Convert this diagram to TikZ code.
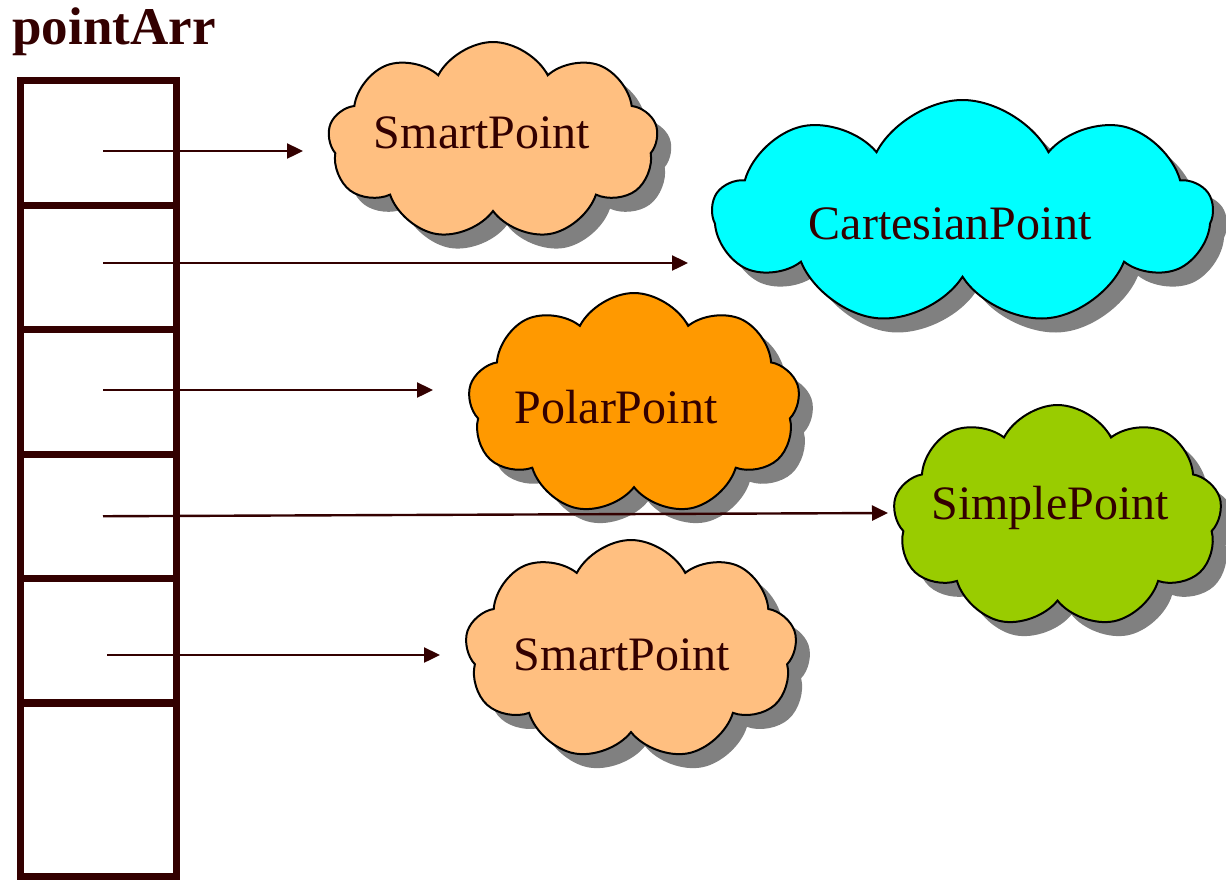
\documentclass[tikz,border=0pt]{standalone}
\usepackage{fontspec}
\setmainfont{Liberation Serif}
\usetikzlibrary{shapes.symbols,shadows,arrows.meta}
\definecolor{ink}{RGB}{51,0,0}
\definecolor{peach}{RGB}{255,191,128}
\definecolor{cyanc}{RGB}{0,255,255}
\definecolor{orangec}{RGB}{255,153,0}
\definecolor{limec}{RGB}{153,204,0}
\tikzset{
  cloudbox/.style={cloud, cloud puffs=9, cloud puff arc=125, cloud ignores aspect,
    draw=black, line width=1pt, inner sep=0pt,
    drop shadow={shadow xshift=7pt, shadow yshift=-7pt, fill=black!50, opacity=1}},
  cloudtext/.style={text=ink, font=\fontsize{24}{28}\selectfont, inner sep=0pt},
  cellbox/.style={draw=ink, line width=3.5pt, minimum width=78pt, inner sep=0pt},
  ptr/.style={draw=ink, line width=1.2pt, -{Triangle[length=8pt,width=7.5pt]}, shorten <=2.5pt},
  title/.style={text=ink, font=\bfseries\fontsize{26.5}{30}\selectfont, inner sep=0pt}
}
\begin{document}
\begin{tikzpicture}[x=0.5pt,y=-0.5pt]
\useasboundingbox (0,0) rectangle (1226,879);
% array cells
\node[cellbox, minimum height=62.25pt] (cell1) at (98,142.75) {};
\node[cellbox, minimum height=62.25pt] (cell2) at (98,267.25) {};
\node[cellbox, minimum height=62.25pt] (cell3) at (98,391.75) {};
\node[cellbox, minimum height=62.25pt] (cell4) at (98,516.25) {};
\node[cellbox, minimum height=62.25pt] (cell5) at (98,640.75) {};
\node[cellbox, minimum height=87pt] (cell6) at (98,789.5) {};
\node[title, anchor=base west] (arrname) at (12,44) {pointArr};
% clouds
\node[cloudbox, fill=peach, minimum width=165pt, minimum height=99pt] (c1) at (493,141) {};
\node[cloudbox, fill=cyanc, minimum width=249.5pt, minimum height=112.5pt] (c2) at (962.5,212.5) {};
\node[cloudbox, fill=orangec, minimum width=166pt, minimum height=111pt] (c3) at (634,404) {};
\node[cloudbox, fill=limec, minimum width=164.5pt, minimum height=111.5pt] (c4) at (1057.5,516.5) {};
\node[cloudbox, fill=peach, minimum width=166pt, minimum height=110pt] (c5) at (631,650) {};
% labels
\node[cloudtext] (t1) at (482,133) {SmartPoint};
\node[cloudtext] (t2) at (950,224) {CartesianPoint};
\node[cloudtext] (t3) at (616,407) {PolarPoint};
\node[cloudtext] (t4) at (1050,508) {SimplePoint};
\node[cloudtext] (t5) at (622,655) {SmartPoint};
% arrow tips
\coordinate (p1) at (303,151);
\coordinate (p2) at (688,263);
\coordinate (p3) at (433,390);
\coordinate (p4) at (888,513);
\coordinate (p5) at (440,655);
\draw[ptr] (cell1.center |- p1) -- (p1);
\draw[ptr] (cell2.center |- p2) -- (p2);
\draw[ptr] (cell3.center |- p3) -- (p3);
\draw[ptr] (cell4.center) -- (p4);
\draw[ptr] ([xshift=2pt]cell5.center |- p5) -- (p5);
\end{tikzpicture}
\end{document}
